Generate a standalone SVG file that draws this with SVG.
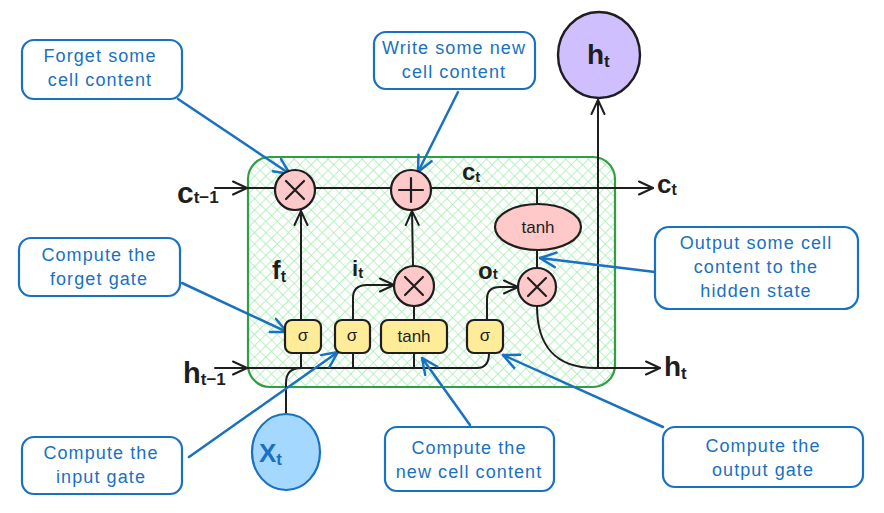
<svg xmlns="http://www.w3.org/2000/svg" width="884" height="513" viewBox="0 0 884 513">
<style>
.cb{fill:#ffffff;stroke:#1971c2;stroke-width:2.2}
.ct{font-family:"Liberation Sans",Arial,sans-serif;font-size:18px;fill:#1971c2;text-anchor:middle;letter-spacing:1.1px}
.bl{fill:none;stroke:#1e1e1e;stroke-width:2;stroke-linecap:round;stroke-linejoin:round}
.bu{fill:none;stroke:#1971c2;stroke-width:2.5;stroke-linecap:round}
.op{fill:#ffc9c9;stroke:#1e1e1e;stroke-width:2.2}
.gate{fill:#ffec99;stroke:#1e1e1e;stroke-width:2.2}
.gt{font-family:"Liberation Sans",Arial,sans-serif;font-size:17px;fill:#1e1e1e;text-anchor:middle}
.m{font-family:"Liberation Sans",Arial,sans-serif;fill:#1e1e1e;font-weight:bold}
.sym{stroke:#1e1e1e;stroke-width:2.2;stroke-linecap:round}
</style>
<defs>
<pattern id="hatch" width="8" height="8" patternUnits="userSpaceOnUse" patternTransform="rotate(45)">
<path d="M0,0 L0,8 M0,0 L8,0" stroke="#a6eeb2" stroke-width="1.6"/>
</pattern>
<marker id="ab" viewBox="0 0 16 16" refX="15" refY="8" markerWidth="16" markerHeight="16" markerUnits="userSpaceOnUse" orient="auto">
<path d="M1,1.5 L15,8 L1,14.5" fill="none" stroke="#1e1e1e" stroke-width="2" stroke-linecap="round" stroke-linejoin="round"/>
</marker>
<marker id="au" viewBox="0 0 16 16" refX="15" refY="8" markerWidth="18" markerHeight="18" markerUnits="userSpaceOnUse" orient="auto">
<path d="M1,1.5 L15,8 L1,14.5" fill="none" stroke="#1971c2" stroke-width="2.2" stroke-linecap="round" stroke-linejoin="round"/>
</marker>
</defs>

<g id="cell">
<rect x="248" y="157" width="367" height="230" rx="22" fill="url(#hatch)" stroke="#2f9e44" stroke-width="2.2"/>
</g>

<g id="connectors">
<path class="bl" d="M215,188 L247,188" marker-end="url(#ab)"/>
<path class="bl" d="M248,188 L653,188" marker-end="url(#ab)"/>
<path class="bl" d="M215,368 L247,368" marker-end="url(#ab)"/>
<path class="bl" d="M248,368 L477,368 Q489,368 489,353"/>
<path class="bl" d="M301,320 L301,211" marker-end="url(#ab)"/>
<path class="bl" d="M301,353 L301,368"/>
<path class="bl" d="M353,353 L353,368"/>
<path class="bl" d="M353,320 L353,298 Q353,285 367,285 L394,285" marker-end="url(#ab)"/>
<path class="bl" d="M414,353 L414,368"/>
<path class="bl" d="M414,320 L414,306"/>
<path class="bl" d="M413,266 L412,211" marker-end="url(#ab)"/>
<path class="bl" d="M487,320 L487,299 Q487,287 500,287 L518,287" marker-end="url(#ab)"/>
<path class="bl" d="M537,188 L537,204"/>
<path class="bl" d="M537,250 L537,268"/>
<path class="bl" d="M537,306 C537,345 555,368 595,368 L660,368" marker-end="url(#ab)"/>
<path class="bl" d="M598,368 L598,100" marker-end="url(#ab)"/>
<path class="bl" d="M286,414 L286,383 Q286,368 301,368"/>
<path class="bu" d="M178,99 L290,174" marker-end="url(#au)"/>
<path class="bu" d="M458,92 L418,172" marker-end="url(#au)"/>
<path class="bu" d="M655,272 L540,258" marker-end="url(#au)"/>
<path class="bu" d="M182,283 L287,332" marker-end="url(#au)"/>
<path class="bu" d="M189,457 L338,352" marker-end="url(#au)"/>
<path class="bu" d="M470,425 L422,358" marker-end="url(#au)"/>
<path class="bu" d="M663,427 L503,355" marker-end="url(#au)"/>
</g>

<g id="forget-mul">
<circle class="op" cx="295" cy="190" r="20"/>
<path class="sym" d="M286,181 L304,199 M304,181 L286,199"/>
</g>
<g id="add">
<circle class="op" cx="411" cy="190" r="20"/>
<path class="sym" d="M399,190 L423,190 M411,178 L411,202"/>
</g>
<g id="input-mul">
<circle class="op" cx="414" cy="286" r="20"/>
<path class="sym" d="M405,277 L423,295 M423,277 L405,295"/>
</g>
<g id="output-mul">
<circle class="op" cx="537" cy="287" r="19"/>
<path class="sym" d="M528,278 L546,296 M546,278 L528,296"/>
</g>
<g id="tanh-out">
<ellipse class="op" cx="538" cy="227" rx="43" ry="23"/>
<text class="gt" x="538" y="233">tanh</text>
</g>
<g id="forget-gate">
<rect class="gate" x="285" y="320" width="36" height="33" rx="7"/>
<text class="gt" x="303" y="341">σ</text>
</g>
<g id="input-gate">
<rect class="gate" x="335" y="320" width="35" height="33" rx="7"/>
<text class="gt" x="352" y="341">σ</text>
</g>
<g id="tanh-gate">
<rect class="gate" x="381" y="320" width="66" height="33" rx="7"/>
<text class="gt" x="414" y="342">tanh</text>
</g>
<g id="output-gate">
<rect class="gate" x="467" y="320" width="36" height="33" rx="7"/>
<text class="gt" x="485" y="341">σ</text>
</g>
<g id="ht-node">
<ellipse cx="599" cy="55" rx="41" ry="43" fill="#d0bfff" stroke="#1e1e1e" stroke-width="2.4"/>
<text class="m" x="587" y="64" font-size="28">h<tspan font-size="17" dy="3">t</tspan></text>
</g>
<g id="xt-node">
<ellipse cx="286" cy="452" rx="34" ry="38" fill="#a5d8ff" stroke="#1971c2" stroke-width="2.2"/>
<text x="259" y="462" font-family="Liberation Sans, Arial, sans-serif" font-size="26" font-weight="bold" fill="#1971c2">X<tspan font-size="17" dy="3">t</tspan></text>
</g>

<g id="labels">
<text class="m" x="177" y="203" font-size="30">c<tspan font-size="17" dy="0">t−1</tspan></text>
<text class="m" x="183" y="383" font-size="29">h<tspan font-size="17" dy="2">t−1</tspan></text>
<text class="m" x="462" y="180" font-size="24">c<tspan font-size="15" dy="2">t</tspan></text>
<text class="m" x="657" y="193" font-size="26">c<tspan font-size="16" dy="2">t</tspan></text>
<text class="m" x="664" y="376" font-size="28">h<tspan font-size="17" dy="3">t</tspan></text>
<text class="m" x="272" y="279" font-size="26">f<tspan font-size="16" dy="3">t</tspan></text>
<text class="m" x="352" y="276" font-size="22">i<tspan font-size="15" dy="2">t</tspan></text>
<text class="m" x="478" y="279" font-size="24">o<tspan font-size="15" dy="0">t</tspan></text>
</g>

<g id="callout-forget">
<rect class="cb" x="22" y="40" width="160" height="59" rx="12"/>
<text class="ct" x="100" y="62">Forget some</text>
<text class="ct" x="100" y="86">cell content</text>
</g>
<g id="callout-write">
<rect class="cb" x="374" y="32" width="161" height="57" rx="12"/>
<text class="ct" x="454" y="54">Write some new</text>
<text class="ct" x="454" y="78">cell content</text>
</g>
<g id="callout-output">
<rect class="cb" x="655" y="227" width="203" height="82" rx="14"/>
<text class="ct" x="756" y="249">Output some cell</text>
<text class="ct" x="756" y="273">content to the</text>
<text class="ct" x="756" y="297">hidden state</text>
</g>
<g id="callout-forget-gate">
<rect class="cb" x="19" y="238" width="161" height="58" rx="12"/>
<text class="ct" x="99" y="261">Compute the</text>
<text class="ct" x="99" y="285">forget gate</text>
</g>
<g id="callout-input-gate">
<rect class="cb" x="22" y="437" width="160" height="57" rx="12"/>
<text class="ct" x="101" y="459">Compute the</text>
<text class="ct" x="101" y="483">input gate</text>
</g>
<g id="callout-new-cell">
<rect class="cb" x="385" y="427" width="169" height="64" rx="12"/>
<text class="ct" x="469" y="454">Compute the</text>
<text class="ct" x="469" y="478">new cell content</text>
</g>
<g id="callout-output-gate">
<rect class="cb" x="663" y="427" width="200" height="60" rx="12"/>
<text class="ct" x="763" y="452">Compute the</text>
<text class="ct" x="763" y="476">output gate</text>
</g>
</svg>
